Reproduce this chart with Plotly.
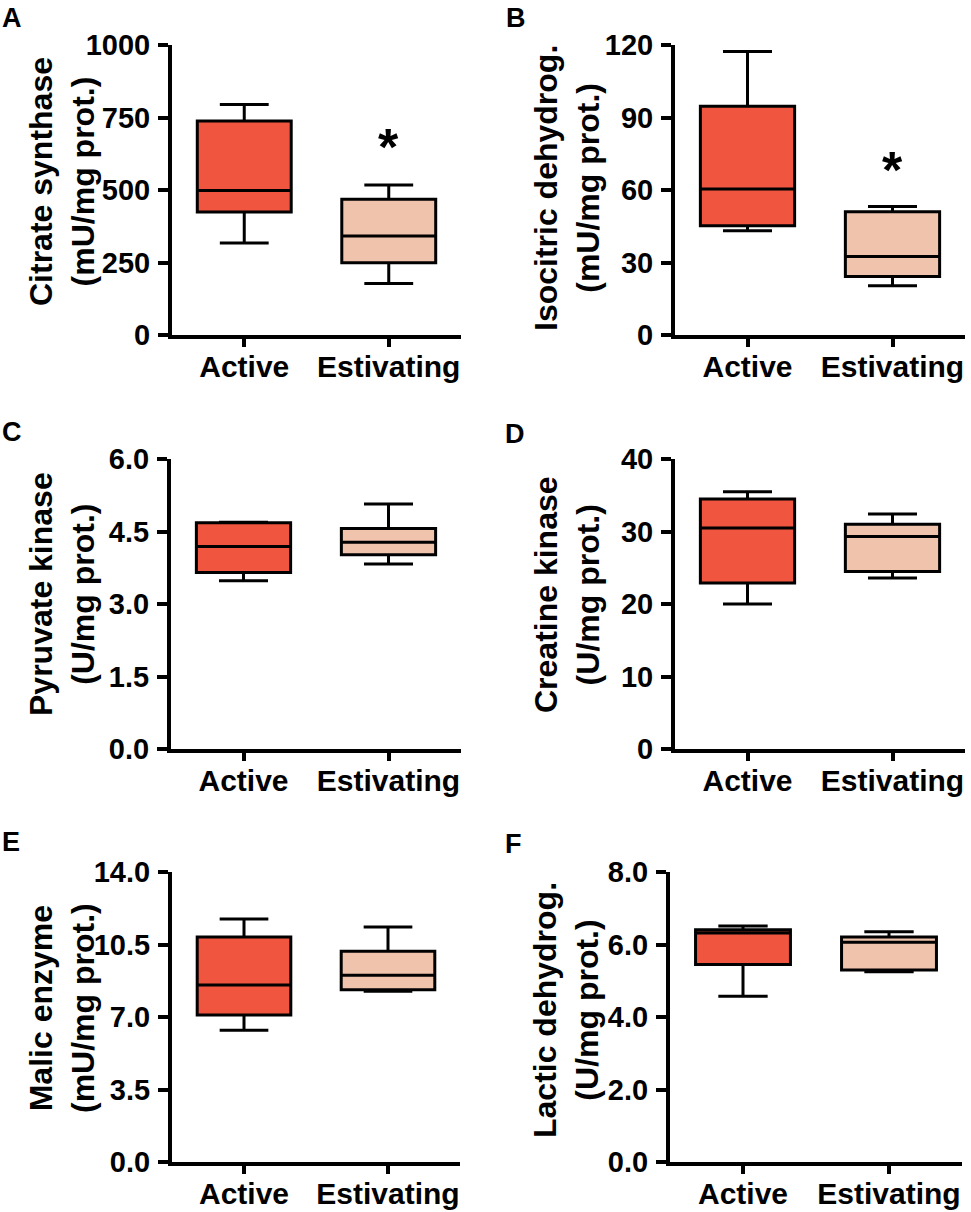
import plotly.graph_objects as go

W, H = 971, 1212

groups = ["Active", "Estivating"]
colors = ["#EF553F", "#EFC3AC"]

panel_letters = ["A", "B", "C", "D", "E", "F"]
titles = [
    "Citrate synthase<br>(mU/mg prot.)",
    "Isocitric dehydrog.<br>(mU/mg prot.)",
    "Pyruvate kinase<br>(U/mg prot.)",
    "Creatine kinase<br>(U/mg prot.)",
    "Malic enzyme<br>(mU/mg prot.)",
    "Lactic dehydrog.<br>(U/mg prot.)",
]

# box statistics per panel: [Active, Estivating]
mins = [[317, 178], [43.1, 20.4], [3.48, 3.83], [20.0, 23.6], [6.36, 8.24], [4.57, 5.25]]
q1s = [[424, 249], [45.2, 24.2], [3.65, 4.02], [22.9, 24.5], [7.10, 8.31], [5.45, 5.30]]
medians = [[498, 341], [60.4, 32.5], [4.19, 4.28], [30.5, 29.3], [8.54, 9.02], [6.32, 6.06]]
q3s = [[738, 468], [94.7, 51.0], [4.68, 4.56], [34.5, 31.0], [10.86, 10.18], [6.41, 6.21]]
maxs = [[795, 517], [117.3, 53.2], [4.69, 5.07], [35.5, 32.4], [11.73, 11.34], [6.51, 6.35]]

y_max = [1000, 120, 6.0, 40, 14.0, 8.0]
y_ticks = [
    [0, 250, 500, 750, 1000],
    [0, 30, 60, 90, 120],
    [0, 1.5, 3.0, 4.5, 6.0],
    [0, 10, 20, 30, 40],
    [0, 3.5, 7.0, 10.5, 14.0],
    [0, 2.0, 4.0, 6.0, 8.0],
]
y_tickformat = ["d", "d", ".1f", "d", ".1f", ".1f"]

# significance markers (panel index, group, y value)
stars = [(0, "Estivating", 690), (1, "Estivating", 73.4)]

# layout geometry in pixels (left, right, top, bottom) of each plot area
boxes_px = [
    (172, 461, 45, 335),
    (675, 965, 45, 335),
    (171, 461, 459, 749),
    (675, 965, 459, 749),
    (172, 460, 872, 1162),
    (670, 962, 872, 1162),
]
title_pos = [(62, 182), (567, 188), (62, 594), (567, 595), (62, 1008), (566, 1010)]
letter_pos = [(0, 1), (504, 1), (0, 415), (503, 417), (0, 825), (503, 827)]

FONT = "Liberation Sans, Arial, Helvetica, sans-serif"

fig = go.Figure()
layout = dict(
    width=W, height=H, margin=dict(l=0, r=0, t=0, b=0, pad=0),
    paper_bgcolor="white", plot_bgcolor="white",
    showlegend=False, boxmode="overlay",
    font=dict(family=FONT, color="black", weight="bold"),
)
annotations = []

for i in range(6):
    n = i + 1
    xa = "x" if n == 1 else f"x{n}"
    ya = "y" if n == 1 else f"y{n}"
    for g in range(2):
        fig.add_trace(go.Box(
            x=[groups[g]],
            q1=[q1s[i][g]], median=[medians[i][g]], q3=[q3s[i][g]],
            lowerfence=[mins[i][g]], upperfence=[maxs[i][g]],
            fillcolor=colors[g], line=dict(color="black", width=3),
            width=0.65, whiskerwidth=0.52, boxpoints=False,
            hoverinfo="skip", xaxis=xa, yaxis=ya,
        ))
    l, r, t, b = boxes_px[i]
    layout[f"xaxis{'' if n == 1 else n}"] = dict(
        domain=[l / W, r / W], anchor=ya, type="category",
        categoryorder="array", categoryarray=groups,
        range=[-0.5, 1.5], showline=True, linewidth=4, linecolor="black",
        ticks="outside", ticklen=8, tickwidth=4, tickcolor="black",
        showgrid=False, zeroline=False, automargin=False,
        ticklabelstandoff=-6,
        tickfont=dict(family=FONT, size=30, color="black", weight="bold"),
        fixedrange=True,
    )
    layout[f"yaxis{'' if n == 1 else n}"] = dict(
        domain=[1 - b / H, 1 - t / H], anchor=xa,
        range=[0, y_max[i]], tickvals=y_ticks[i], tickformat=y_tickformat[i],
        showline=True, linewidth=4, linecolor="black",
        ticks="outside", ticklen=10, tickwidth=4, tickcolor="black",
        showgrid=False, zeroline=False, automargin=False,
        ticklabelstandoff=2,
        tickfont=dict(family=FONT, size=29, color="black", weight="bold"),
        fixedrange=True,
    )
    tx, ty = title_pos[i]
    annotations.append(dict(
        text=titles[i], xref="paper", yref="paper", x=tx / W, y=1 - ty / H,
        xanchor="center", yanchor="middle", textangle=-90, showarrow=False,
        font=dict(family=FONT, size=32, color="black", weight="bold"),
    ))
    lx, ly = letter_pos[i]
    annotations.append(dict(
        text=panel_letters[i], xref="paper", yref="paper", x=lx / W, y=1 - ly / H,
        xanchor="left", yanchor="top", showarrow=False,
        font=dict(family=FONT, size=27, color="black", weight="bold"),
    ))

for (pi, grp, yv) in stars:
    n = pi + 1
    annotations.append(dict(
        text="*", xref="x" if n == 1 else f"x{n}", yref="y" if n == 1 else f"y{n}",
        x=grp, y=yv, yshift=-12, showarrow=False,
        font=dict(family=FONT, size=52, color="black", weight="bold"),
    ))

layout["annotations"] = annotations
fig.update_layout(**layout)
fig.write_html("out.html", config={"displayModeBar": False},
               post_script="document.body.style.margin='0px';")
